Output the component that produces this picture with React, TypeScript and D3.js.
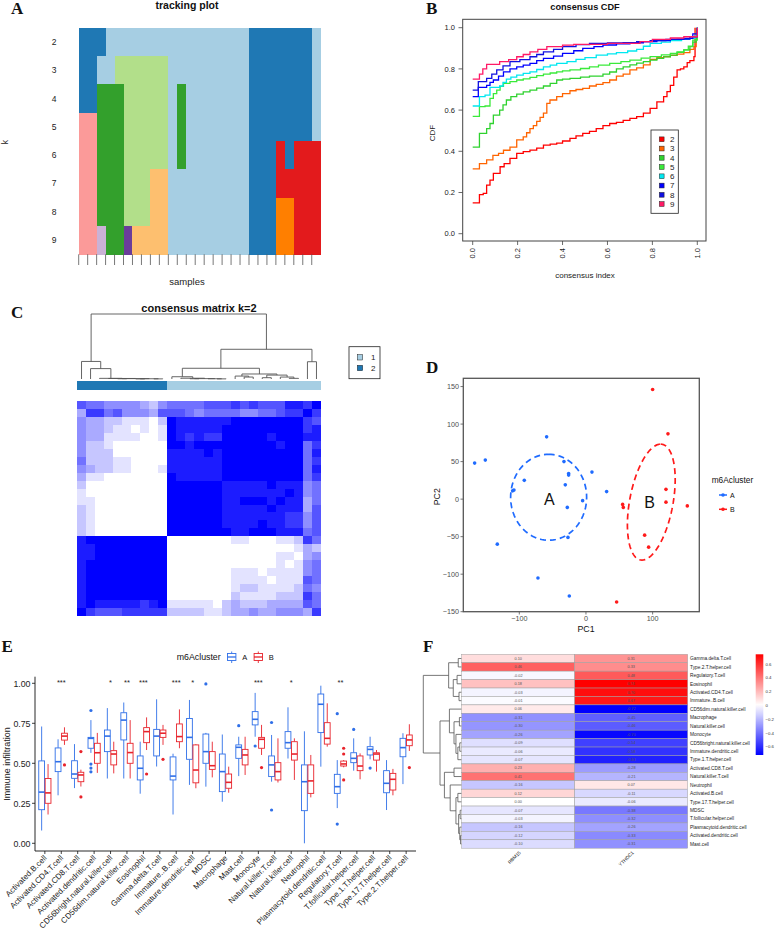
import React from 'react';
import * as d3 from 'd3';

const SANS = "'Liberation Sans', Arial, Helvetica, sans-serif";
const SERIF = "'Liberation Serif', 'Times New Roman', serif";

// ===== Panel A: tracking plot =====
const trackK = ['2', '3', '4', '5', '6', '7', '8', '9'];
const trackRuns: [string, number][][] = [
  [['D', 3], ['L', 16], ['D', 7], ['L', 1]],
  [['D', 2], ['L', 2], ['g', 6], ['L', 9], ['D', 7], ['L', 1]],
  [['D', 2], ['G', 3], ['g', 5], ['L', 1], ['G', 1], ['L', 7], ['D', 7], ['L', 1]],
  [['p', 2], ['G', 3], ['g', 5], ['L', 1], ['G', 1], ['L', 7], ['D', 7], ['L', 1]],
  [['p', 2], ['G', 3], ['g', 5], ['L', 1], ['G', 1], ['L', 7], ['D', 3], ['R', 1], ['D', 1], ['R', 3]],
  [['p', 2], ['G', 3], ['g', 3], ['o', 2], ['L', 9], ['D', 3], ['R', 5]],
  [['p', 2], ['G', 3], ['g', 3], ['o', 2], ['L', 9], ['D', 3], ['O', 2], ['R', 3]],
  [['p', 2], ['l', 1], ['G', 2], ['P', 1], ['o', 4], ['L', 9], ['D', 3], ['O', 2], ['R', 3]],
];
const trackPalette: Record<string, string> = {
  L: '#A6CEE3', D: '#1F78B4', g: '#B2DF8A', G: '#33A02C', p: '#FB9A99',
  R: '#E31A1C', o: '#FDBF6F', O: '#FF7F00', l: '#CAB2D6', P: '#6A3D9A',
};
const nSamples = 27;

// ===== Panel B: consensus CDF =====
const cdfK = ['2', '3', '4', '5', '6', '7', '8', '9'];
const cdf2 = [[0,0.15],[0.03,0.19],[0.047,0.196],[0.062,0.236],[0.077,0.26],[0.092,0.293],[0.122,0.325],[0.14,0.34],[0.166,0.366],[0.196,0.39],[0.225,0.398],[0.255,0.406],[0.285,0.415],[0.315,0.43],[0.345,0.435],[0.374,0.44],[0.4,0.45],[0.433,0.463],[0.46,0.475],[0.49,0.487],[0.52,0.497],[0.55,0.51],[0.58,0.525],[0.61,0.535],[0.64,0.54],[0.67,0.55],[0.7,0.56],[0.73,0.568],[0.76,0.585],[0.79,0.608],[0.82,0.64],[0.85,0.665],[0.865,0.69],[0.88,0.72],[0.895,0.76],[0.91,0.795],[0.925,0.8],[0.94,0.81],[0.955,0.83],[0.967,0.84],[0.985,0.86],[0.99,1.0]];
const cdf3 = [[0,0.315],[0.03,0.34],[0.062,0.358],[0.09,0.38],[0.115,0.39],[0.137,0.405],[0.166,0.42],[0.196,0.455],[0.225,0.47],[0.24,0.49],[0.255,0.51],[0.27,0.525],[0.285,0.545],[0.3,0.565],[0.315,0.585],[0.33,0.633],[0.344,0.649],[0.374,0.665],[0.4,0.68],[0.433,0.694],[0.46,0.7],[0.49,0.705],[0.52,0.717],[0.55,0.725],[0.58,0.733],[0.61,0.746],[0.64,0.765],[0.67,0.775],[0.7,0.795],[0.73,0.805],[0.76,0.82],[0.79,0.846],[0.82,0.855],[0.85,0.86],[0.88,0.866],[0.91,0.872],[0.94,0.879],[0.967,0.895],[0.985,0.908],[0.995,1.0]];
const cdf4 = [[0,0.42],[0.03,0.487],[0.062,0.51],[0.077,0.535],[0.092,0.576],[0.12,0.6],[0.135,0.625],[0.15,0.649],[0.17,0.665],[0.196,0.678],[0.225,0.688],[0.255,0.697],[0.285,0.707],[0.315,0.717],[0.345,0.73],[0.374,0.746],[0.4,0.75],[0.433,0.754],[0.48,0.76],[0.52,0.765],[0.58,0.775],[0.61,0.785],[0.64,0.8],[0.67,0.81],[0.7,0.82],[0.73,0.828],[0.76,0.835],[0.79,0.843],[0.82,0.851],[0.85,0.858],[0.88,0.867],[0.91,0.88],[0.94,0.892],[0.967,0.908],[0.98,0.93],[0.995,0.956],[1.0,1.0]];
const cdf5 = [[0,0.57],[0.03,0.617],[0.055,0.62],[0.077,0.657],[0.092,0.68],[0.107,0.697],[0.122,0.715],[0.137,0.73],[0.166,0.738],[0.196,0.746],[0.225,0.752],[0.255,0.759],[0.285,0.767],[0.315,0.775],[0.345,0.78],[0.374,0.786],[0.4,0.79],[0.433,0.795],[0.48,0.802],[0.52,0.81],[0.56,0.818],[0.61,0.827],[0.66,0.835],[0.7,0.843],[0.75,0.852],[0.79,0.86],[0.84,0.868],[0.88,0.875],[0.91,0.882],[0.94,0.892],[0.96,0.91],[0.98,0.94],[1.0,1.0]];
const cdf6 = [[0,0.62],[0.03,0.665],[0.055,0.673],[0.077,0.71],[0.12,0.717],[0.135,0.735],[0.15,0.75],[0.17,0.76],[0.196,0.77],[0.225,0.778],[0.255,0.786],[0.285,0.797],[0.315,0.81],[0.345,0.818],[0.374,0.827],[0.42,0.835],[0.46,0.846],[0.5,0.855],[0.55,0.867],[0.6,0.873],[0.64,0.879],[0.69,0.887],[0.73,0.895],[0.76,0.91],[0.79,0.924],[0.84,0.93],[0.88,0.937],[0.93,0.943],[0.967,0.948],[0.99,0.96],[1.0,1.0]];
const cdf7 = [[0,0.665],[0.025,0.71],[0.062,0.72],[0.077,0.735],[0.092,0.746],[0.115,0.765],[0.137,0.786],[0.166,0.8],[0.196,0.81],[0.225,0.818],[0.255,0.827],[0.285,0.84],[0.315,0.851],[0.36,0.862],[0.4,0.875],[0.45,0.888],[0.49,0.9],[0.54,0.908],[0.58,0.916],[0.64,0.922],[0.7,0.927],[0.76,0.932],[0.82,0.937],[0.88,0.943],[0.94,0.948],[0.98,0.97],[1.0,1.0]];
const cdf8 = [[0,0.697],[0.025,0.738],[0.062,0.754],[0.085,0.775],[0.107,0.795],[0.135,0.815],[0.166,0.835],[0.21,0.845],[0.255,0.859],[0.285,0.87],[0.315,0.883],[0.36,0.895],[0.4,0.908],[0.46,0.918],[0.52,0.924],[0.6,0.926],[0.67,0.927],[0.73,0.932],[0.79,0.937],[0.86,0.943],[0.91,0.945],[0.967,0.956],[1.0,1.0]];
const cdf9 = [[0,0.75],[0.03,0.775],[0.045,0.8],[0.062,0.822],[0.12,0.835],[0.16,0.845],[0.196,0.859],[0.225,0.87],[0.255,0.883],[0.29,0.895],[0.33,0.908],[0.4,0.915],[0.45,0.919],[0.6,0.924],[0.745,0.932],[0.8,0.943],[0.88,0.95],[0.94,0.956],[1.0,1.0]];
const cdfSeries = [cdf2, cdf3, cdf4, cdf5, cdf6, cdf7, cdf8, cdf9];
const cdfColors = ['#FF0000', '#FF6400', '#2FD22F', '#3AEA3A', '#00E8F0', '#0000FF', '#1010E0', '#FF1A66'];
const cdfTicks = [0, 0.2, 0.4, 0.6, 0.8, 1.0];

// ===== Panel C: consensus matrix k=2 =====
const consClusters = '222222222211111111111111111';
const consMatrix = [
  '655444432455556667676668879',
  '377564443666545555445567797',
  '433221110298888889999999976',
  '433211010198888899999999978',
  '433111100198787799999899988',
  '422100000099899999999989957',
  '422200000088889899999999958',
  '522211000088888899999999957',
  '432211000188888899999999958',
  '311000000098888899999999957',
  '200000000099999988888988845',
  '100000000099999988888889845',
  '110000000099999988999898835',
  '210000000099999988888988836',
  '210000000099999988888887746',
  '210000000099999988889887746',
  '210000000099999998899988856',
  '899999999900000001100011275',
  '889999999900000000000000132',
  '889999999900000000000011034',
  '899999999900000000000010145',
  '899999999900000001110111145',
  '899999999900000001111011165',
  '899999999900000001221111254',
  '899999999900000002111122275',
  '898888878911111023222333365',
  '976667777722221123343344437',
];
// dendrogram: [height, left, right], leaves = sample index
const consTree: any = [1.0,
  [0.27, 0, [0.16, 1, [0.01, 2, [0.008, 3, [0.006, [0.004, 4, 5], [0.004, [0.002, 6, 7], [0.002, 8, 9]]]]]]],
  [0.457,
    [0.165,
      [0.035, 10, [0.012, 11, [0.006, [0.004, 12, 13], [0.004, 14, [0.002, 15, 16]]]]],
      [0.077, [0.045, 17, [0.03, 18, 19]], [0.06, [0.02, 20, 21], [0.03, 22, [0.01, 23, 24]]]]],
    [0.266, 25, 26]]];
const consLegend = ['1', '2'];

// ===== Panel D: PCA =====
const pcaA = [[-167,48],[-151,52],[-133,-60],[-110,11],[-108,12],[-92.5,25],[-59,83],[-72,-105],[-33,50],[-26,34],[-26,32],[-31,19],[-28,-11],[-27,-51],[-25,-129],[-5,-2],[9,36],[31,10]];
const pcaB = [[100,146],[123,87],[120,13],[120,-4],[152,-9],[55,-7],[56,-11],[88,-48],[94,-64],[46,-137]];
// ellipse: centre x, centre y, axis1 (dx, dy), axis2 (dx, dy) in PC units
const ellipseA = [-56, 2.5, 0, 57.3, 57, 0];
const ellipseB = [98, -4, 14, 77.3, 33, 0];
const pcaXTicks = [-100, 0, 100];
const pcaYTicks = [-150, -100, -50, 0, 50, 100, 150];

// ===== Panel E: immune infiltration boxplots =====
const immuneCells = ['Activated.B.cell','Activated.CD4.T.cell','Activated.CD8.T.cell','Activated.dendritic.cell','CD56bright.natural.killer.cell','CD56dim.natural.killer.cell','Eosinophil','Gamma.delta.T.cell','Immature..B.cell','Immature.dendritic.cell','MDSC','Macrophage','Mast.cell','Monocyte','Natural.killer.T.cell','Natural.killer.cell','Neutrophil','Plasmacytoid.dendritic.cell','Regulatory.T.cell','T.follicular.helper.cell','Type.1.T.helper.cell','Type.17.T.helper.cell','Type.2.T.helper.cell'];
// [lower whisker, q1, median, q3, upper whisker]
const boxA = [[0.08,0.21,0.32,0.515,0.73],[0.30,0.448,0.51,0.596,0.65],[0.345,0.406,0.433,0.516,0.62],[0.565,0.594,0.656,0.662,0.77],[0.405,0.573,0.67,0.708,0.845],[0.405,0.646,0.77,0.816,0.88],[0.31,0.396,0.469,0.546,0.635],[0.48,0.546,0.67,0.712,0.9],[0.18,0.396,0.42,0.54,0.56],[0.365,0.525,0.662,0.78,0.896],[0.354,0.5,0.573,0.683,0.69],[0.26,0.323,0.448,0.558,0.68],[0.42,0.531,0.6,0.615,0.666],[0.666,0.74,0.775,0.823,0.94],[0.385,0.417,0.49,0.546,0.677],[0.53,0.594,0.629,0.698,0.85],[0.0,0.204,0.385,0.49,0.7],[0.479,0.692,0.869,0.933,0.985],[0.22,0.312,0.354,0.431,0.52],[0.454,0.504,0.531,0.566,0.656],[0.525,0.552,0.587,0.604,0.666],[0.208,0.316,0.375,0.454,0.52],[0.37,0.541,0.598,0.656,0.688]];
const boxB = [[0.18,0.25,0.315,0.405,0.495],[0.615,0.645,0.67,0.688,0.725],[0.355,0.385,0.427,0.444,0.46],[0.44,0.5,0.566,0.625,0.69],[0.437,0.49,0.558,0.579,0.635],[0.405,0.5,0.567,0.625,0.77],[0.583,0.629,0.698,0.723,0.787],[0.615,0.662,0.688,0.708,0.74],[0.594,0.635,0.667,0.746,0.837],[0.344,0.378,0.458,0.615,0.62],[0.412,0.462,0.485,0.573,0.635],[0.316,0.344,0.381,0.433,0.479],[0.427,0.49,0.552,0.587,0.666],[0.552,0.594,0.65,0.662,0.74],[0.38,0.396,0.448,0.504,0.656],[0.396,0.52,0.558,0.635,0.656],[0.287,0.312,0.39,0.49,0.552],[0.604,0.62,0.656,0.754,0.875],[0.475,0.483,0.496,0.514,0.52],[0.4,0.454,0.483,0.546,0.562],[0.448,0.52,0.558,0.566,0.583],[0.3,0.333,0.4,0.437,0.465],[0.577,0.61,0.646,0.677,0.744]];
const outliersA = [[3,0.83],[3,0.495],[3,0.47],[3,0.447],[10,0.996],[12,0.735],[13,0.608],[14,0.755],[14,0.208],[18,0.81],[18,0.12],[19,0.712],[20,0.47]];
const outliersB = [[1,0.49],[2,0.573],[2,0.29],[6,0.433],[7,0.525],[13,0.473],[18,0.594],[18,0.558],[18,0.396],[22,0.473]];
const sigMarks: [number, string][] = [[1,'***'],[4,'*'],[5,'**'],[6,'***'],[8,'***'],[9,'*'],[13,'***'],[15,'*'],[18,'**']];
const immTicks = [0, 0.25, 0.5, 0.75, 1.0];

// ===== Panel F: correlation heatmap =====
const corRows = ['Gamma.delta.T.cell','Type.2.T.helper.cell','Regulatory.T.cell','Eosinophil','Activated.CD4.T.cell','Immature..B.cell','CD56dim.natural.killer.cell','Macrophage','Natural.killer.cell','Monocyte','CD56bright.natural.killer.cell','Immature.dendritic.cell','Type.1.T.helper.cell','Activated.CD8.T.cell','Natural.killer.T.cell','Neutrophil','Activated.B.cell','Type.17.T.helper.cell','MDSC','T.follicular.helper.cell','Plasmacytoid.dendritic.cell','Activated.dendritic.cell','Mast.cell'];
const corGenes = ['RBM15', 'YTHDC1'];
const corRBM15 = [0.10,0.46,-0.02,0.18,-0.03,-0.01,0.06,-0.31,-0.30,-0.26,-0.09,-0.06,-0.07,0.23,0.41,-0.16,0.12,0.00,-0.07,-0.03,-0.16,-0.12,-0.10];
const corYTHDC1 = [0.31,0.33,0.48,0.74,0.70,0.67,-0.72,-0.45,-0.46,-0.70,-0.54,-0.58,-0.63,-0.28,-0.21,0.07,-0.11,-0.06,-0.38,-0.32,-0.26,-0.33,-0.31];
const corTree: any = [1.0,
  [0.34, [0.09, 0, 1], [0.22, [0.12, 2, 3], [0.07, 4, 5]]],
  [0.565,
    [0.32, 6, [0.2, [0.06, 7, 8], [0.15, 9, [0.1, [0.05, 10, 11], 12]]]],
    [0.45, [0.2, 13, 14], [0.3, 15, [0.15, [0.1, 16, 17], [0.08, [0.04, 18, 19], [0.05, 20, [0.03, 21, 22]]]]]]]];
const corLegendTicks = [0.6, 0.4, 0.2, 0, -0.2, -0.4, -0.6];

// ---------- helpers ----------
function dendroSegments(tree: any, leafPos: (i: number) => number) {
  const segs: number[][] = [];
  const rec = (node: any): [number, number] => {
    if (typeof node === 'number') return [leafPos(node), 0];
    const [h, a, b] = node;
    const [pa, ha] = rec(a);
    const [pb, hb] = rec(b);
    segs.push([pa, ha, pa, h], [pb, hb, pb, h], [pa, h, pb, h]);
    return [(pa + pb) / 2, h];
  };
  rec(tree);
  return segs;
}

function PanelLetter({ x, y, t }: { x: number; y: number; t: string }) {
  return <text x={x} y={y} fontFamily={SERIF} fontWeight="bold" fontSize={17} fill="#111">{t}</text>;
}

// ---------- Panel A ----------
function PanelA() {
  const x = d3.scaleLinear().domain([0, nSamples]).range([78.7, 320.7]);
  const y = d3.scaleBand().domain(trackK).range([27.7, 254.3]);
  const rects: any[] = [];
  trackRuns.forEach((runs, r) => {
    let s = 0;
    runs.forEach(([c, n], j) => {
      rects.push(<rect key={`${r}-${j}`} x={x(s)} y={y(trackK[r])!} width={x(s + n) - x(s)} height={y.bandwidth() + 0.3} fill={trackPalette[c]} />);
      s += n;
    });
  });
  return (
    <g>
      <PanelLetter x={11} y={13.5} t="A" />
      <text x={187} y={8.5} textAnchor="middle" fontWeight="bold" fontSize={10.5} fill="#111">tracking plot</text>
      <g shapeRendering="crispEdges">{rects}</g>
      {d3.range(nSamples).map(i => (
        <line key={i} x1={x(i)} x2={x(i)} y1={254.3} y2={265} stroke="#555" strokeWidth={0.8} />
      ))}
      {trackK.map(k => (
        <text key={k} x={54} y={y(k)! + y.bandwidth() / 2 + 3} textAnchor="middle" fontSize={8.5} fill="#222">{k}</text>
      ))}
      <text x={187} y={285} textAnchor="middle" fontSize={9.5} fill="#222">samples</text>
      <text transform="translate(8,142) rotate(-90)" textAnchor="middle" fontSize={8.5} fill="#222">k</text>
    </g>
  );
}

// ---------- Panel B ----------
function PanelB() {
  const x = d3.scaleLinear().domain([0, 1]).range([472.7, 697.3]);
  const y = d3.scaleLinear().domain([0, 1]).range([233.7, 27.7]);
  const line = d3.line<number[]>().x(d => x(d[0])).y(d => y(d[1])).curve(d3.curveStepAfter);
  return (
    <g>
      <PanelLetter x={426} y={14} t="B" />
      <text x={585} y={9.5} textAnchor="middle" fontWeight="bold" fontSize={9.2} fill="#111">consensus CDF</text>
      {cdfSeries.map((s, i) => (
        <path key={i} d={line(s)!} fill="none" stroke={cdfColors[i]} strokeWidth={1.3} />
      ))}
      <rect x={462.7} y={19.3} width={243.3} height={221.7} fill="none" stroke="#444" strokeWidth={1} />
      {cdfTicks.map(t => (
        <g key={'y' + t}>
          <line x1={462.7} x2={458.5} y1={y(t)} y2={y(t)} stroke="#444" strokeWidth={0.8} />
          <text x={455} y={y(t) + 2.6} textAnchor="end" fontSize={7.5} fill="#222">{t.toFixed(1)}</text>
        </g>
      ))}
      {cdfTicks.map(t => (
        <g key={'x' + t}>
          <line x1={x(t)} x2={x(t)} y1={241} y2={245} stroke="#444" strokeWidth={0.8} />
          <text transform={`translate(${x(t) + 2.6},248) rotate(-90)`} textAnchor="end" fontSize={7.5} fill="#222">{t.toFixed(1)}</text>
        </g>
      ))}
      <text x={585} y={278} textAnchor="middle" fontSize={8} fill="#222">consensus index</text>
      <text transform="translate(434.5,133) rotate(-90)" textAnchor="middle" fontSize={8} fill="#222">CDF</text>
      <rect x={651} y={130} width={27.3} height={83.3} fill="#fff" stroke="#222" strokeWidth={0.8} />
      {cdfK.map((k, i) => (
        <g key={k}>
          <rect x={659.3} y={139.3 + i * 9.25 - 2.4} width={4.8} height={4.8} fill={cdfColors[i]} stroke="#222" strokeWidth={0.5} />
          <text x={670} y={139.3 + i * 9.25 + 2.8} fontSize={8} fill="#222">{k}</text>
        </g>
      ))}
    </g>
  );
}

// ---------- Panel C ----------
function PanelC() {
  const idx = d3.range(nSamples).map(String);
  const x = d3.scaleBand().domain(idx).range([77, 321]);
  const yb = d3.scaleBand().domain(idx).range([401, 616]);
  const hy = d3.scaleLinear().domain([0, 1]).range([379, 314]);
  const col = d3.scaleLinear<string>().domain([0, 9]).range(['#FFFFFF', '#0000FF']);
  const segs = dendroSegments(consTree, i => x(String(i))! + x.bandwidth() / 2);
  const clusterColor: Record<string, string> = { '1': '#A6CEE3', '2': '#1F78B4' };
  return (
    <g>
      <PanelLetter x={11} y={317.5} t="C" />
      <text x={199} y={311.5} textAnchor="middle" fontWeight="bold" fontSize={11} fill="#111">consensus matrix k=2</text>
      {segs.map((s, i) => (
        <line key={i} x1={s[0]} x2={s[2]} y1={hy(s[1])} y2={hy(s[3])} stroke="#555" strokeWidth={0.9} />
      ))}
      <g shapeRendering="crispEdges">
        {consClusters.split('').map((c, i) => (
          <rect key={i} x={x(String(i))!} y={380.7} width={x.bandwidth() + 0.4} height={9.3} fill={clusterColor[c]} />
        ))}
        {consMatrix.map((row, r) => row.split('').map((v, c) => (
          <rect key={`${r}-${c}`} x={x(String(c))!} y={yb(String(r))!} width={x.bandwidth() + 0.4} height={yb.bandwidth() + 0.4} fill={col(+v)} />
        )))}
      </g>
      <rect x={349} y={346.7} width={31} height={32} fill="#fff" stroke="#222" strokeWidth={0.8} />
      {consLegend.map((k, i) => (
        <g key={k}>
          <rect x={357.3} y={357.3 + i * 10.7 - 2.7} width={5.4} height={5.4} fill={clusterColor[k]} stroke="#222" strokeWidth={0.5} />
          <text x={371} y={357.3 + i * 10.7 + 3} fontSize={8} fill="#222">{k}</text>
        </g>
      ))}
    </g>
  );
}

// ---------- Panel D ----------
function PanelD() {
  const x = d3.scaleLinear().domain([-184, 170]).range([463.3, 699.3]);
  const y = d3.scaleLinear().domain([-150, 161]).range([611.7, 378.3]);
  const blue = '#1F6BFF';
  const red = '#FF1A1A';
  const ell = (e: number[]) => {
    const pts = d3.range(0, 101).map(i => {
      const t = (i / 100) * Math.PI * 2;
      return [x(e[0] + e[2] * Math.cos(t) + e[4] * Math.sin(t)), y(e[1] + e[3] * Math.cos(t) + e[5] * Math.sin(t))] as [number, number];
    });
    return d3.line()(pts)!;
  };
  return (
    <g>
      <PanelLetter x={426} y={372.5} t="D" />
      <path d={ell(ellipseA)} fill="none" stroke={blue} strokeWidth={1.7} strokeDasharray="6 4" />
      <path d={ell(ellipseB)} fill="none" stroke={red} strokeWidth={1.7} strokeDasharray="6 4" />
      {pcaA.map((p, i) => <circle key={'a' + i} cx={x(p[0])} cy={y(p[1])} r={1.8} fill={blue} />)}
      {pcaB.map((p, i) => <circle key={'b' + i} cx={x(p[0])} cy={y(p[1])} r={1.8} fill={red} />)}
      <text x={x(-55)} y={y(0) + 5.5} textAnchor="middle" fontSize={16} fill="#111">A</text>
      <text x={x(95.5)} y={y(-4.4) + 5.5} textAnchor="middle" fontSize={16} fill="#111">B</text>
      <rect x={463.3} y={378.3} width={236} height={233.4} fill="none" stroke="#555" strokeWidth={1.3} />
      {pcaYTicks.map(t => (
        <g key={'y' + t}>
          <line x1={463.3} x2={460.5} y1={y(t)} y2={y(t)} stroke="#555" strokeWidth={0.8} />
          <text x={459} y={y(t) + 2.5} textAnchor="end" fontSize={7.2} fill="#4D4D4D">{t < 0 ? '\u2212' + Math.abs(t) : t}</text>
        </g>
      ))}
      {pcaXTicks.map(t => (
        <g key={'x' + t}>
          <line x1={x(t)} x2={x(t)} y1={611.7} y2={614.5} stroke="#555" strokeWidth={0.8} />
          <text x={x(t)} y={621.3} textAnchor="middle" fontSize={7.2} fill="#4D4D4D">{t < 0 ? '\u2212' + Math.abs(t) : t}</text>
        </g>
      ))}
      <text x={586} y={631.5} textAnchor="middle" fontSize={8.8} fill="#111">PC1</text>
      <text transform="translate(439.5,496.7) rotate(-90)" textAnchor="middle" fontSize={8.8} fill="#111">PC2</text>
      <text x={711.7} y={483} fontSize={8.3} fill="#111">m6Acluster</text>
      {[['A', blue], ['B', red]].map(([k, c], i) => (
        <g key={k}>
          <line x1={719} x2={727} y1={495 + i * 14.3} y2={495 + i * 14.3} stroke={c} strokeWidth={1.5} />
          <circle cx={723} cy={495 + i * 14.3} r={1.8} fill={c} />
          <text x={730} y={497.7 + i * 14.3} fontSize={7} fill="#111">{k}</text>
        </g>
      ))}
    </g>
  );
}

// ---------- Panel E ----------
function PanelE() {
  const x = d3.scalePoint<string>().domain(immuneCells).range([35, 416]).padding(0.6);
  const y = d3.scaleLinear().domain([0, 1]).range([843.3, 683.3]);
  const blue = '#2F6FE8';
  const red = '#E8232B';
  const bw = 5.8;
  const off = 3.2;
  const drawBox = (b: number[], cx: number, c: string, key: string) => (
    <g key={key}>
      <line x1={cx} x2={cx} y1={y(b[4])} y2={y(b[3])} stroke={c} strokeWidth={0.9} />
      <line x1={cx} x2={cx} y1={y(b[1])} y2={y(b[0])} stroke={c} strokeWidth={0.9} />
      <rect x={cx - bw / 2} y={y(b[3])} width={bw} height={Math.max(0.5, y(b[1]) - y(b[3]))} fill="#fff" stroke={c} strokeWidth={0.9} />
      <line x1={cx - bw / 2} x2={cx + bw / 2} y1={y(b[2])} y2={y(b[2])} stroke={c} strokeWidth={1.6} />
    </g>
  );
  return (
    <g>
      <PanelLetter x={1.5} y={651.5} t="E" />
      <text x={176.7} y={660} fontSize={8.8} fill="#111">m6Acluster</text>
      {[['A', blue, 226.7], ['B', red, 253.3]].map(([k, c, lx]: any) => (
        <g key={k}>
          <line x1={lx + 5} x2={lx + 5} y1={651.5} y2={663} stroke={c} strokeWidth={0.9} />
          <rect x={lx + 0.8} y={653.5} width={8.4} height={7} fill="#fff" stroke={c} strokeWidth={0.9} />
          <line x1={lx + 0.8} x2={lx + 9.2} y1={657} y2={657} stroke={c} strokeWidth={1.3} />
          <text x={lx + 15.5} y={660} fontSize={7.5} fill="#111">{k}</text>
        </g>
      ))}
      {immuneCells.map((n, i) => drawBox(boxA[i], x(n)! - off, blue, 'a' + i))}
      {immuneCells.map((n, i) => drawBox(boxB[i], x(n)! + off, red, 'b' + i))}
      {outliersA.map((o, i) => <circle key={'oa' + i} cx={x(immuneCells[o[0]])! - off} cy={y(o[1])} r={1.6} fill={blue} />)}
      {outliersB.map((o, i) => <circle key={'ob' + i} cx={x(immuneCells[o[0]])! + off} cy={y(o[1])} r={1.6} fill={red} />)}
      {sigMarks.map(([i, s]) => (
        <text key={'s' + i} x={x(immuneCells[i])!} y={684.5} textAnchor="middle" fontSize={7.5} fill="#222">{s}</text>
      ))}
      <line x1={35} x2={35} y1={676.7} y2={851} stroke="#111" strokeWidth={0.9} />
      <line x1={35} x2={416} y1={851} y2={851} stroke="#111" strokeWidth={0.9} />
      {immTicks.map(t => (
        <g key={'t' + t}>
          <line x1={32} x2={35} y1={y(t)} y2={y(t)} stroke="#111" strokeWidth={0.8} />
          <text x={30.5} y={y(t) + 3.2} textAnchor="end" fontSize={8.8} fill="#222">{t.toFixed(2)}</text>
        </g>
      ))}
      {immuneCells.map(n => (
        <g key={'x' + n}>
          <line x1={x(n)!} x2={x(n)!} y1={851} y2={854} stroke="#111" strokeWidth={0.8} />
          <text transform={`translate(${x(n)! + 2.5},858.5) rotate(-45)`} textAnchor="end" fontSize={8} fill="#222">{n}</text>
        </g>
      ))}
      <text transform="translate(9.5,764) rotate(-90)" textAnchor="middle" fontSize={9} fill="#222">Immune infiltration</text>
    </g>
  );
}

// ---------- Panel F ----------
function PanelF() {
  const rowIdx = corRows.map((_, i) => String(i));
  const y = d3.scaleBand().domain(rowIdx).range([654.3, 848.2]);
  const x = d3.scaleBand().domain(corGenes).range([461.7, 687.7]);
  const hx = d3.scaleLinear().domain([0, 1]).range([461.7, 423.3]);
  const col = d3.scaleLinear<string>().domain([-0.72, 0, 0.74]).range(['#0000FF', '#FFFFFF', '#FF0000']);
  const segs = dendroSegments(corTree, i => y(String(i))! + y.bandwidth() / 2);
  const vals = [corRBM15, corYTHDC1];
  const ly = d3.scaleLinear().domain([0.74, -0.72]).range([654.3, 755]);
  const stops = d3.range(0, 11).map(i => 0.74 - (i / 10) * 1.46);
  return (
    <g>
      <PanelLetter x={423} y={651.5} t="F" />
      {segs.map((s, i) => (
        <line key={i} y1={s[0]} y2={s[2]} x1={hx(s[1])} x2={hx(s[3])} stroke="#555" strokeWidth={0.8} />
      ))}
      {corGenes.map((g, gi) => corRows.map((r, ri) => (
        <g key={g + r}>
          <rect x={x(g)!} y={y(String(ri))!} width={x.bandwidth()} height={y.bandwidth()} fill={col(vals[gi][ri])} stroke="#A0A0A0" strokeWidth={0.5} />
          <text x={x(g)! + x.bandwidth() / 2} y={y(String(ri))! + y.bandwidth() / 2 + 1.3} textAnchor="middle" fontSize={3.8} fill="#555">{vals[gi][ri].toFixed(2)}</text>
        </g>
      )))}
      {corRows.map((r, ri) => (
        <text key={'r' + r} x={690} y={y(String(ri))! + y.bandwidth() / 2 + 1.7} fontSize={4.8} fill="#222">{r}</text>
      ))}
      {corGenes.map(g => (
        <text key={'c' + g} transform={`translate(${x(g)! + x.bandwidth() / 2 + 3},853) rotate(-45)`} textAnchor="end" fontSize={4.8} fill="#222">{g}</text>
      ))}
      <defs>
        <linearGradient id="corGrad" x1="0" y1="0" x2="0" y2="1">
          {stops.map((v, i) => <stop key={i} offset={`${i * 10}%`} stopColor={col(v)} />)}
        </linearGradient>
      </defs>
      <rect x={755.7} y={654.3} width={7.6} height={100.7} fill="url(#corGrad)" />
      {corLegendTicks.map(t => (
        <text key={'l' + t} x={765.5} y={ly(t) + 1.6} fontSize={4.3} fill="#333">{t === 0 ? '0' : (t < 0 ? '\u2212' + Math.abs(t).toFixed(1) : t.toFixed(1))}</text>
      ))}
    </g>
  );
}

export default function App() {
  return (
    <svg width={775} height={945} style={{ position: 'absolute', left: 0, top: 0, background: '#fff' }} fontFamily={SANS}>
      <rect width={775} height={945} fill="#fff" />
      <PanelA />
      <PanelB />
      <PanelC />
      <PanelD />
      <PanelE />
      <PanelF />
    </svg>
  );
}
